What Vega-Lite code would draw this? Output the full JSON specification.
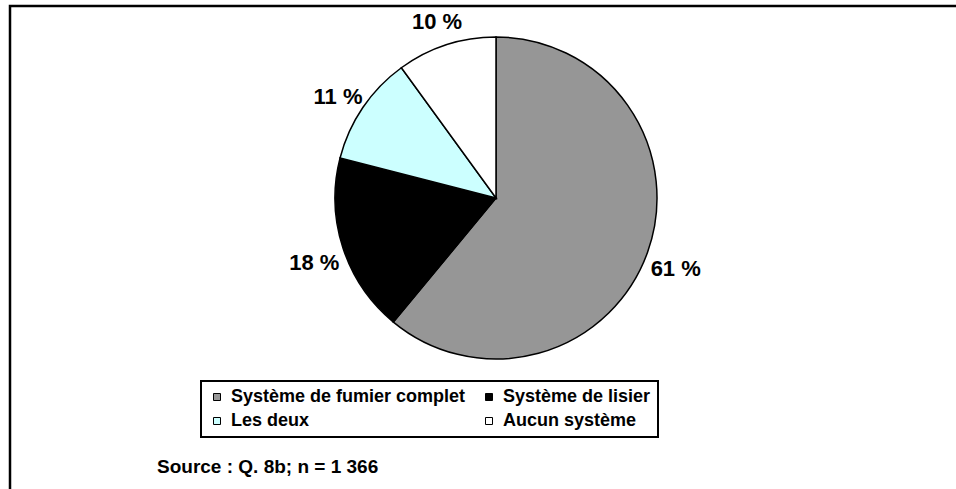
{
  "$schema": "https://vega.github.io/schema/vega-lite/v6.json",
  "autosize": {"type": "none"},
  "width": 986,
  "height": 503,
  "padding": {"left": 10, "top": 6, "right": -40, "bottom": -20},
  "background": "white",
  "config": {
    "view": {"stroke": null},
    "font": "Liberation Sans"
  },
  "layer": [
    {
      "data": {"values": [{"frame": "frame"}]},
      "mark": {"type": "rect", "x": 0, "y": 0, "x2": "width", "y2": "height", "fill": null, "stroke": "black", "strokeWidth": 2.5},
      "encoding": {}
    },
    {
      "data": {"values": [
        {"category": "Système de fumier complet", "value": 61, "label": "61 %", "rank": 1},
        {"category": "Système de lisier", "value": 18, "label": "18 %", "rank": 2},
        {"category": "Les deux", "value": 11, "label": "11 %", "rank": 3},
        {"category": "Aucun système", "value": 10, "label": "10 %", "rank": 4}
      ]},
      "encoding": {
        "theta": {"field": "value", "type": "quantitative", "stack": true},
        "order": {"field": "rank", "type": "quantitative"}
      },
      "layer": [
        {
          "mark": {"type": "arc", "x": 486, "y": 192, "outerRadius": 161, "stroke": "black", "strokeWidth": 1.5},
          "encoding": {
            "color": {
              "field": "category",
              "type": "nominal",
              "scale": {
                "domain": ["Système de fumier complet", "Système de lisier", "Les deux", "Aucun système"],
                "range": ["#969696", "#000000", "#CCFFFF", "#FFFFFF"]
              },
              "legend": {
                "orient": "none",
                "legendX": 191,
                "legendY": 375,
                "title": null,
                "columns": 2,
                "direction": "horizontal",
                "symbolType": "square",
                "symbolSize": 49,
                "symbolStrokeColor": "black",
                "symbolStrokeWidth": 1,
                "symbolOffset": 0,
                "labelFont": "Liberation Sans",
                "labelFontWeight": "bold",
                "labelFontSize": 18,
                "labelColor": "black",
                "labelLimit": 0,
                "labelOffset": 5,
                "columnPadding": 14,
                "rowPadding": 6,
                "padding": 7,
                "strokeColor": "black",
                "encode": {"legend": {"update": {"strokeWidth": {"value": 2}}}}
              }
            }
          }
        },
        {
          "mark": {"type": "text", "x": 486, "y": 192, "radius": 191, "dy": 6, "font": "Liberation Sans", "fontWeight": "bold", "fontSize": 22, "color": "black"},
          "encoding": {
            "text": {"field": "label", "type": "nominal"}
          }
        }
      ]
    },
    {
      "data": {"values": [{"note": "Source : Q. 8b; n = 1 366"}]},
      "mark": {"type": "text", "x": 147, "y": 467, "align": "left", "baseline": "alphabetic", "font": "Liberation Sans", "fontWeight": "bold", "fontSize": 19, "color": "black"},
      "encoding": {"text": {"field": "note", "type": "nominal"}}
    }
  ]
}
